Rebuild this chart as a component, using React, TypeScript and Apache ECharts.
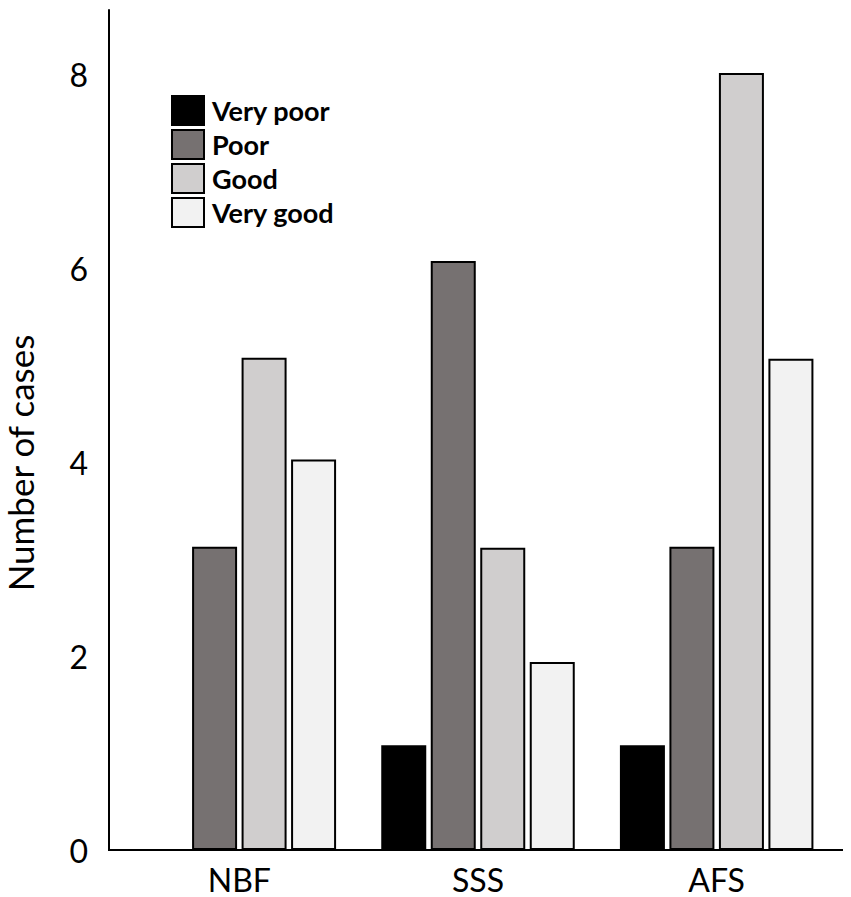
import React, { useEffect, useRef } from "react";
import * as echarts from "echarts";

const categories = ["NBF", "SSS", "AFS"];
const seriesNames = ["Very poor", "Poor", "Good", "Very good"];
const veryPoor = [0, 1.08, 1.08];
const poor = [3.13, 6.08, 3.13];
const good = [5.08, 3.12, 8.02];
const veryGood = [4.03, 1.94, 5.07];
const colors = ["#000000", "#767171", "#D0CECE", "#F2F2F2"];
const yTicks = [0, 2, 4, 6, 8];

const FONT = "Lato, 'Open Sans', sans-serif";

export default function App() {
  const ref = useRef<HTMLDivElement>(null);
  useEffect(() => {
    document.body.style.margin = "0";
    const chart = echarts.init(ref.current!, null, { renderer: "svg" });
    const values = [veryPoor, poor, good, veryGood];
    chart.setOption({
      animation: false,
      backgroundColor: "#ffffff",
      textStyle: { fontFamily: FONT },
      grid: { left: 120, right: 15, top: 10, bottom: 47, containLabel: false, outerBoundsMode: "none" },
      legend: {
        orient: "vertical",
        left: 171,
        top: 95,
        padding: 0,
        itemWidth: 32,
        itemHeight: 29,
        itemGap: 3,
        icon: "rect",
        data: seriesNames,
        textStyle: {
          fontFamily: FONT,
          fontSize: 27,
          lineHeight: 29,
          fontWeight: "bold",
          color: "#000",
          padding: [0, 0, 0, 3],
        },
      },
      xAxis: {
        type: "category",
        data: categories,
        axisLine: { show: false },
        axisTick: { show: false },
        axisLabel: { fontSize: 32, color: "#000", margin: 13, fontFamily: FONT },
      },
      yAxis: {
        type: "value",
        min: 0,
        max: 8.67,
        interval: 2,
        offset: 11,
        name: "Number of cases",
        nameLocation: "middle",
        nameGap: 72,
        nameTextStyle: { fontSize: 35, color: "#000", fontFamily: FONT, padding: [0, 66, 0, 0] },
        axisLine: { show: true, lineStyle: { color: "#000", width: 2 } },
        axisTick: { show: false },
        splitLine: { show: false },
        axisLabel: {
          fontSize: 32,
          color: "#000",
          margin: 21,
          fontFamily: FONT,
          formatter: (v: number) => (yTicks.includes(v) ? String(v) : ""),
        },
      },
      graphic: [
        {
          type: "line",
          shape: { x1: 108, y1: 850, x2: 843, y2: 850 },
          style: { stroke: "#000", lineWidth: 2 },
          z: 100,
        },
      ],
      series: seriesNames.map((name, i) => ({
        name,
        type: "bar",
        data: values[i],
        barWidth: 45,
        barGap: "10%",
        itemStyle: { color: colors[i], borderColor: "#000", borderWidth: 2 },
      })),
    });
    return () => chart.dispose();
  }, []);
  return <div ref={ref} style={{ width: 851, height: 897 }} />;
}
